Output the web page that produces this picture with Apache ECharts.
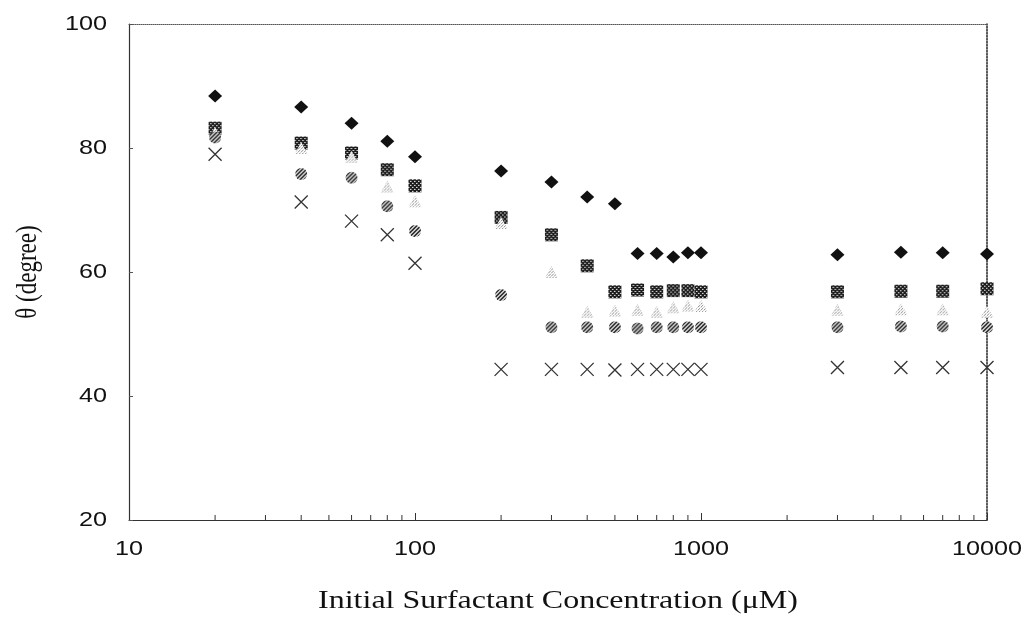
<!DOCTYPE html>
<html>
<head>
<meta charset="utf-8">
<script src="https://cdn.jsdelivr.net/npm/echarts@6/dist/echarts.min.js"></script>
<style>
  html, body { margin: 0; padding: 0; background: #fff; }
  #chart { width: 1028px; height: 618px; }
</style>
</head>
<body>
<div id="chart"></div>
<script>
// Initial surfactant concentration (µM)
const concentrations = [20, 40, 60, 80, 100, 200, 300, 400, 500, 600, 700, 800, 900, 1000, 3000, 5000, 7000, 10000];
// Contact angle θ (degree) for each data set
const diamondSeries  = [88.4, 86.6, 84.0, 81.1, 78.6, 76.3, 74.5, 72.1, 71.0, 63.0, 63.0, 62.4, 63.1, 63.1, 62.8, 63.2, 63.1, 62.9];
const squareSeries   = [83.2, 80.8, 79.2, 76.5, 73.9, 68.8, 66.0, 61.0, 56.8, 57.1, 56.8, 57.0, 57.0, 56.8, 56.8, 56.9, 56.9, 57.3];
const triangleSeries = [82.4, 80.0, 78.6, 73.8, 71.4, 67.9, 60.0, 53.6, 53.8, 53.9, 53.6, 54.3, 54.6, 54.5, 53.9, 54.0, 54.0, 53.6];
const circleSeries   = [81.7, 75.8, 75.2, 70.6, 66.6, 56.3, 51.1, 51.1, 51.1, 50.9, 51.1, 51.1, 51.1, 51.1, 51.1, 51.2, 51.2, 51.1];
const crossSeries    = [79.0, 71.3, 68.2, 66.0, 61.4, 44.3, 44.3, 44.3, 44.2, 44.3, 44.3, 44.3, 44.3, 44.3, 44.6, 44.6, 44.6, 44.6];

// Axis settings
const xTickLabels = [10, 100, 1000, 10000];
const yTickLabels = [20, 40, 60, 80, 100];
const minorTickValues = [20, 30, 40, 50, 60, 70, 80, 90, 200, 300, 400, 500, 600, 700, 800, 900, 2000, 3000, 4000, 5000, 6000, 7000, 8000, 9000];
const xTitle = 'Initial Surfactant Concentration (\u03bcM)';
const yTitle = '\u03b8 (degree)';

function pair(ys) { return concentrations.map((x, i) => [x, ys[i]]); }

// Scatter symbols are built at size 2 and then scaled, so the fill
// pattern is scaled back to keep its texture at screen resolution.
function makePattern(size, sw, sh, draw) {
  const c = document.createElement('canvas');
  c.width = size; c.height = size;
  const g = c.getContext('2d');
  draw(g, size);
  return { image: c, repeat: 'repeat', scaleX: 2 / sw, scaleY: 2 / sh };
}
const SQ = 13, TRI_W = 13, TRI_H = 12, CIR = 12;
const checkerFill = makePattern(4, SQ, SQ, (g) => {
  g.fillStyle = '#1c1c1c'; g.fillRect(0, 0, 4, 4);
  g.fillStyle = '#f0f0f0'; g.fillRect(1, 1, 1, 1); g.fillRect(3, 3, 1, 1);
  g.fillStyle = '#8a8a8a'; g.fillRect(2, 1, 1, 1); g.fillRect(0, 3, 1, 1);
});
const dotFill = makePattern(3, TRI_W, TRI_H, (g) => {
  g.fillStyle = '#ffffff'; g.fillRect(0, 0, 3, 3);
  g.fillStyle = '#8c8c8c'; g.fillRect(0, 0, 1, 1); g.fillRect(1, 2, 1, 1);
  g.fillStyle = '#cccccc'; g.fillRect(2, 1, 1, 1);
});
const hatchFill = makePattern(4, CIR, CIR, (g) => {
  g.fillStyle = '#cfcfcf'; g.fillRect(0, 0, 4, 4);
  g.fillStyle = '#2e2e2e';
  for (let i = 0; i < 4; i++) { g.fillRect(3 - i, i, 1, 1); g.fillRect((4 - i) % 4, i, 1, 1); }
});

const chart = echarts.init(document.getElementById('chart'), null, { renderer: 'canvas' });

const labelFont = '21px "Liberation Sans", Arial, sans-serif';
const titleFontX = '26px "Liberation Serif", "Times New Roman", serif';
const titleFontY = '23px "Liberation Serif", "Times New Roman", serif';

chart.setOption({
  backgroundColor: '#ffffff',
  animation: false,
  grid: { left: 129, right: 41, top: 24, bottom: 98, containLabel: false },
  xAxis: [
    {
      type: 'log', logBase: 10, min: 10, max: 10000,
      axisLine: { show: true, lineStyle: { color: '#333', width: 1.2 } },
      axisTick: { show: true, inside: true, length: 7, lineStyle: { color: '#333' } },
      axisLabel: { show: false },
      splitLine: { show: false },
      minorTick: { show: false }
    },
    {
      type: 'log', logBase: 10, min: 10, max: 10000, position: 'top',
      axisLine: { show: true, lineStyle: { color: '#555', width: 1, type: 'dotted' } },
      axisTick: { show: false }, axisLabel: { show: false }, splitLine: { show: false }
    }
  ],
  yAxis: [
    {
      type: 'value', min: yTickLabels[0], max: yTickLabels[yTickLabels.length - 1], interval: 20,
      axisLine: { show: true, lineStyle: { color: '#333', width: 1.2 } },
      axisTick: { show: true, inside: true, length: 4, lineStyle: { color: '#555' } },
      axisLabel: { show: false },
      splitLine: { show: false }
    },
    {
      type: 'value', min: 20, max: 100, interval: 20, position: 'right',
      axisLine: { show: true, lineStyle: { color: '#222', width: 1.5, type: 'dotted' } },
      axisTick: { show: false }, axisLabel: { show: false }, splitLine: { show: false }
    }
  ],
  series: [
    {
      name: 'minor ticks', type: 'scatter', silent: true, clip: false,
      data: minorTickValues.map((v) => [v, yTickLabels[0]]),
      symbol: 'rect', symbolSize: [1, 5], symbolOffset: [0, -2.5],
      itemStyle: { color: '#333', opacity: 1 }, z: 1
    },
    {
      name: 'diamond', type: 'scatter', data: pair(diamondSeries),
      symbol: 'diamond', symbolSize: [14, 13],
      itemStyle: { color: '#111', opacity: 1 }, z: 2
    },
    {
      name: 'square', type: 'scatter', data: pair(squareSeries),
      symbol: 'rect', symbolSize: SQ,
      itemStyle: { color: checkerFill, opacity: 1 }, z: 3
    },
    {
      name: 'triangle', type: 'scatter', data: pair(triangleSeries),
      symbol: 'triangle', symbolSize: [TRI_W, TRI_H],
      itemStyle: { color: dotFill, opacity: 1 }, z: 4
    },
    {
      name: 'circle', type: 'scatter', data: pair(circleSeries),
      symbol: 'circle', symbolSize: CIR,
      itemStyle: { color: hatchFill, opacity: 1 }, z: 5
    },
    {
      name: 'cross', type: 'scatter', data: pair(crossSeries),
      symbol: 'path://M0,0L10,10M10,0L0,10', symbolSize: 13,
      itemStyle: { color: 'rgba(0,0,0,0)', borderColor: '#333', borderWidth: 1.3, opacity: 1 }, z: 6
    }
  ]
});

// Tick labels and axis titles, placed through the axis scales and
// drawn slightly widened horizontally.
function px(x, y) { return chart.convertToPixel({ xAxisIndex: 0, yAxisIndex: 0 }, [x, y]); }
function textEl(text, x, y, font, align, extra) {
  return Object.assign({
    type: 'text', x: x, y: y, silent: true, z: 10,
    style: { text: text, font: font, fill: '#111',
      textAlign: align, align: align, textVerticalAlign: 'middle', verticalAlign: 'middle' }
  }, extra || {});
}
const xMin = xTickLabels[0], xMax = xTickLabels[xTickLabels.length - 1];
const yMin = yTickLabels[0], yMax = yTickLabels[yTickLabels.length - 1];
const graphics = [];
xTickLabels.forEach((v) => {
  const p = px(v, yMin);
  graphics.push(textEl(String(v), p[0], p[1] + 29, labelFont, 'center', { scaleX: 1.2 }));
});
yTickLabels.forEach((v) => {
  const p = px(xMin, v);
  graphics.push(textEl(String(v), p[0] - 22, p[1], labelFont, 'right', { scaleX: 1.2 }));
});
const pMidX = px(Math.sqrt(xMin * xMax), yMin);
graphics.push(textEl(xTitle, pMidX[0], pMidX[1] + 81, titleFontX, 'center', { scaleX: 1.23 }));
const pMidY = px(xMin, (yMin + yMax) / 2);
graphics.push(textEl(yTitle, pMidY[0] - 101, pMidY[1], titleFontY, 'center',
  { rotation: Math.PI / 2, scaleY: 1.25 }));
chart.setOption({ graphic: graphics });
</script>
</body>
</html>
